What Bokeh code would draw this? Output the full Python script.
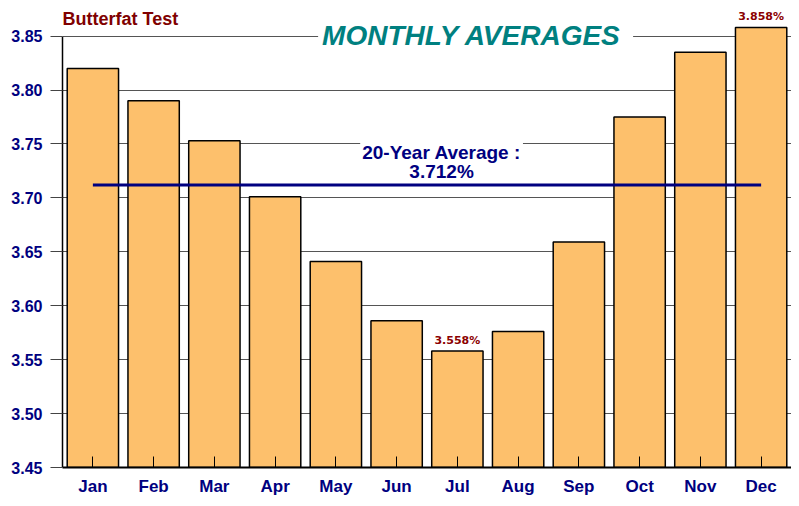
from bokeh.plotting import figure
from bokeh.models import Range1d, FixedTicker, Label, PrintfTickFormatter
from bokeh.embed import file_html
from bokeh.resources import INLINE
from bokeh.core.properties import value

months = ["Jan", "Feb", "Mar", "Apr", "May", "Jun", "Jul", "Aug", "Sep", "Oct", "Nov", "Dec"]
butterfat = [3.820, 3.790, 3.753, 3.701, 3.641, 3.586, 3.558, 3.576, 3.659, 3.775, 3.835, 3.858]
twenty_year_avg = 3.712
y_ticks = [3.45, 3.50, 3.55, 3.60, 3.65, 3.70, 3.75, 3.80, 3.85]

xs = list(range(len(months)))

NAVY = "#000080"
DARKRED = "#800000"
BAR = "#FDC06C"

p = figure(width=791, height=498, output_backend="svg", toolbar_location=None,
           x_range=Range1d(-0.5, len(months) - 0.5), y_range=Range1d(3.45, 3.883),
           min_border_left=62, min_border_right=0, min_border_top=0, min_border_bottom=28)
p.outline_line_color = None
p.background_fill_color = "white"
p.border_fill_color = "white"

# grid
p.xgrid.visible = False
p.ygrid.ticker = FixedTicker(ticks=y_ticks)
p.ygrid.grid_line_color = "#555555"
p.ygrid.grid_line_width = 1

# y axis
p.yaxis.ticker = FixedTicker(ticks=y_ticks)
p.yaxis.formatter = PrintfTickFormatter(format="%.2f")
p.yaxis.bounds = (y_ticks[0], y_ticks[-1])
p.yaxis.axis_line_color = "black"
p.yaxis.axis_line_width = 1.5
p.yaxis.major_tick_out = 12
p.yaxis.major_tick_in = 0
p.yaxis.major_tick_line_color = "#444444"
p.yaxis.minor_tick_line_color = None
p.yaxis.major_label_standoff = 8
p.yaxis.major_label_text_font = "Liberation Sans"
p.yaxis.major_label_text_font_style = "bold"
p.yaxis.major_label_text_font_size = "16px"
p.yaxis.major_label_text_color = NAVY

# x axis
p.xaxis.ticker = FixedTicker(ticks=xs)
p.xaxis.major_label_overrides = {i: m for i, m in zip(xs, months)}
p.xaxis.axis_line_color = "black"
p.xaxis.axis_line_width = 2
p.xaxis.major_tick_out = 0
p.xaxis.major_tick_in = 11
p.xaxis.major_tick_line_color = "black"
p.xaxis.minor_tick_line_color = None
p.xaxis.major_label_standoff = 9
p.xaxis.major_label_text_font = "Liberation Sans"
p.xaxis.major_label_text_font_style = "bold"
p.xaxis.major_label_text_font_size = "17px"
p.xaxis.major_label_text_color = NAVY

# bars
p.vbar(x=xs, top=butterfat, bottom=y_ticks[0], width=0.845,
       fill_color=BAR, line_color="black", line_width=1.5)

# average line
p.line(x=[xs[0], xs[-1]], y=[twenty_year_avg, twenty_year_avg], line_color=NAVY, line_width=3)

# max / min value labels
imax = butterfat.index(max(butterfat))
imin = butterfat.index(min(butterfat))
p.text(x=[xs[imin], xs[imax]], y=[butterfat[imin], butterfat[imax]],
       text=["%.3f%%" % butterfat[imin], "%.3f%%" % butterfat[imax]],
       text_align="center", text_baseline="bottom", y_offset=-4,
       text_font=value("DejaVu Sans"), text_font_style="bold",
       text_font_size="11px", text_color="#8B0000")

# titles
p.add_layout(Label(x=-0.5, y=3.866, text="Butterfat Test", text_align="left",
                   text_baseline="middle", text_font="Liberation Sans",
                   text_font_style="bold", text_font_size="18px", text_color=DARKRED))
p.add_layout(Label(x=6.3, y=3.851, text="MONTHLY  AVERAGES", text_align="center",
                   text_baseline="middle", text_font="Liberation Sans",
                   text_font_style="bold italic", text_font_size="28px", text_color="#008080",
                   background_fill_color="white", padding=(4, 26)))

# average label
p.add_layout(Label(x=5.74, y=3.742, text="20-Year Average :", text_align="center",
                   text_baseline="middle", text_font="Liberation Sans",
                   text_font_style="bold", text_font_size="19px", text_color=NAVY,
                   background_fill_color="white", padding=(2, 16)))
p.add_layout(Label(x=5.74, y=3.7245, text="%.3f%%" % twenty_year_avg, text_align="center",
                   text_baseline="middle", text_font="Liberation Sans",
                   text_font_style="bold", text_font_size="19px", text_color=NAVY))

open("out.html", "w").write(file_html(p, INLINE))
